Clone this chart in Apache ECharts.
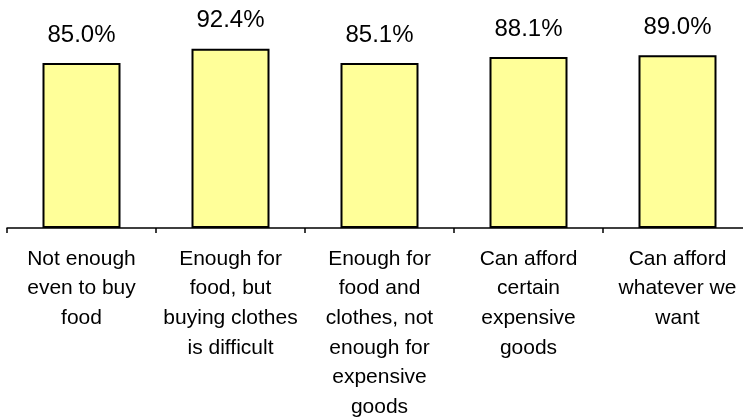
<!DOCTYPE html>
<html>
<head>
<meta charset="utf-8">
<style>html,body{margin:0;padding:0;background:#fff;overflow:hidden;}#c{width:743px;height:417px;}</style>
<script src="https://cdn.jsdelivr.net/npm/echarts@6/dist/echarts.min.js"></script>
</head>
<body>
<div id="c"></div>
<script>
const categories = [
  "Not enough\neven to buy\nfood",
  "Enough for\nfood, but\nbuying clothes\nis difficult",
  "Enough for\nfood and\nclothes, not\nenough for\nexpensive\ngoods",
  "Can afford\ncertain\nexpensive\ngoods",
  "Can afford\nwhatever we\nwant"
];
const values = [85.0, 92.4, 85.1, 88.1, 89.0];

const chart = echarts.init(document.getElementById('c'), null, {renderer: 'canvas', width: 743, height: 417});
chart.setOption({
  animation: false,
  backgroundColor: '#ffffff',
  grid: {left: 7, top: 34, width: 745, height: 194, containLabel: false, outerBoundsMode: 'none'},
  xAxis: {
    type: 'category',
    data: categories,
    boundaryGap: true,
    axisLine: {show: true, lineStyle: {color: '#000', width: 1.5}},
    axisTick: {show: true, length: 5, lineStyle: {color: '#000', width: 1.5}},
    axisLabel: {
      interval: 0,
      margin: 16,
      color: '#000',
      fontFamily: 'Liberation Sans, Arial, sans-serif',
      fontSize: 21,
      lineHeight: 29.7,
      align: 'center',
      hideOverlap: false
    }
  },
  yAxis: {
    type: 'value',
    min: 0,
    max: 100,
    show: false,
    splitLine: {show: false}
  },
  series: [{
    type: 'bar',
    data: values,
    barWidth: 78,
    itemStyle: {color: '#FFFF99', borderColor: '#000', borderWidth: 2},
    label: {
      show: true,
      position: 'top',
      distance: 16,
      color: '#000',
      fontFamily: 'Liberation Sans, Arial, sans-serif',
      fontSize: 24,
      formatter: p => p.value.toFixed(1) + '%'
    }
  }]
});
</script>
</body>
</html>
